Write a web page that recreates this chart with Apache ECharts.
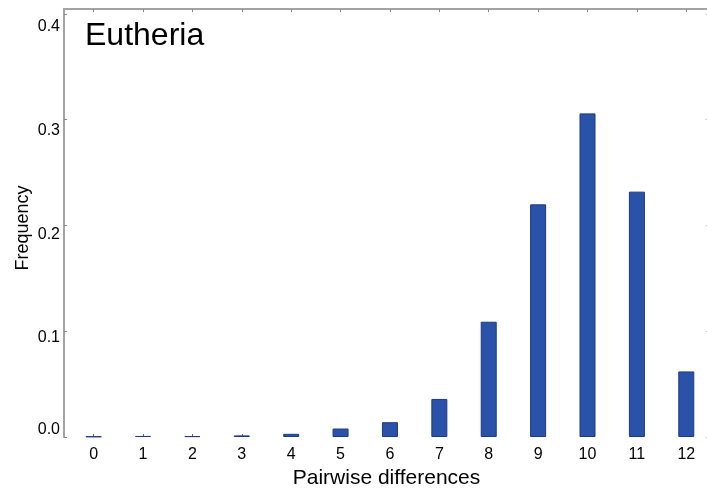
<!DOCTYPE html>
<html>
<head>
<meta charset="utf-8">
<script src="https://cdn.jsdelivr.net/npm/echarts@6/dist/echarts.min.js"></script>
<style>html,body{margin:0;padding:0;background:#fff}#c{width:707px;height:489px}</style>
</head>
<body>
<div id="c"></div>
<script>
const categories = [0,1,2,3,4,5,6,7,8,9,10,11,12];
const frequency = [0.0005,0.001,0.0008,0.0015,0.003,0.008,0.014,0.036,0.109,0.220,0.306,0.232,0.062];
const yTickValues = [0,0.1,0.2,0.3,0.4];
const yUpperLabelValues = [0.1,0.2,0.3,0.4];
const yZeroLabelValues = [0];
const panelTitle = 'Eutheria';
const xTitle = 'Pairwise differences';
const yTitle = 'Frequency';

const FONT = '"Liberation Sans", Arial, sans-serif';
const frameColor = '#a3a3a3';
const fmt = v => (Math.round(v*10)/10).toFixed(1);

const chart = echarts.init(document.getElementById('c'), null, {renderer:'canvas'});
const labelAxis = (min, max, vals) => ({
  type:'value', position:'left', min:min, max:max,
  axisLine:{show:false, onZero:false}, axisTick:{show:false}, splitLine:{show:false},
  axisLabel:{customValues:vals, formatter:fmt, fontFamily:FONT, fontSize:16, color:'#000', margin:4}
});
chart.setOption({
  animation:false,
  grid:{left:64, top:9, right:-2, bottom:52, containLabel:false, outerBoundsMode:'none'},
  xAxis:[
    {type:'value', position:'bottom', min:-0.6, max:12.46,
     axisLine:{show:false, onZero:false},
     axisTick:{show:true, inside:true, length:3, customValues:categories, lineStyle:{color:'#666'}},
     axisLabel:{customValues:categories, formatter:v=>String(Math.round(v)), fontFamily:FONT, fontSize:16, color:'#000', margin:10},
     splitLine:{show:false},
     name:xTitle, nameLocation:'middle', nameGap:28, nameTextStyle:{fontFamily:FONT, fontSize:21, color:'#000'}},
    {type:'value', position:'top', min:-0.6, max:12.46,
     axisLine:{show:true, onZero:false, lineStyle:{color:frameColor, width:2}},
     axisTick:{show:true, inside:true, length:3, customValues:categories, lineStyle:{color:'#888'}},
     axisLabel:{show:false}, splitLine:{show:false}}
  ],
  yAxis:[
    {type:'value', position:'left', min:0, max:0.4047,
     axisLine:{show:true, onZero:false, lineStyle:{color:frameColor, width:2}},
     axisTick:{show:true, inside:true, length:3, customValues:yTickValues, lineStyle:{color:'#888'}},
     axisLabel:{show:false}, splitLine:{show:false}},
    {type:'value', position:'right', min:0, max:0.4047,
     axisLine:{show:false, onZero:false},
     axisTick:{show:true, inside:true, length:3, customValues:yTickValues, lineStyle:{color:'#aaa'}},
     axisLabel:{show:false}, splitLine:{show:false}},
    labelAxis(0.00472, 0.41665, yUpperLabelValues),
    labelAxis(-0.00703, 0.4049, yZeroLabelValues)
  ],
  graphic:[
    {type:'text', left:85, top:20, style:{text:panelTitle, font:'32px "Liberation Sans", Arial, sans-serif', fill:'#000'}},
    {type:'text', x:23, y:228, rotation:Math.PI/2, style:{text:yTitle, font:'18px "Liberation Sans", Arial, sans-serif', fill:'#000', align:'center', verticalAlign:'middle'}}
  ],
  series:[{
    type:'bar', xAxisIndex:0, yAxisIndex:0, barWidth:16,
    data:categories.map((c,i)=>[c, frequency[i]]),
    itemStyle:{color:'#2a52a8', borderColor:'#1b3a82', borderWidth:1}
  }]
});
</script>
</body>
</html>
